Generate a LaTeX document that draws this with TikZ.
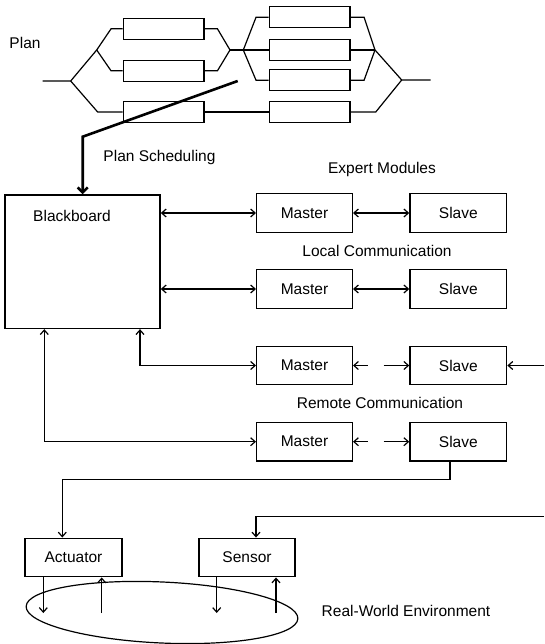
\documentclass[tikz,border=0pt]{standalone}
\usepackage{fontspec}
\setmainfont{Liberation Sans}
\usetikzlibrary{arrows.meta,shapes.geometric}
\begin{document}
\begin{tikzpicture}[x=1pt,y=-1pt,
  font=\fontsize{15.5}{18}\selectfont,
  conn/.style={line width=1.2pt},
  heavy/.style={line width=2.6pt},
  box/.style={draw, line width=1.4pt, inner sep=0pt, minimum height=38.5pt},
  mbox/.style={box, minimum width=95.6pt},
  sbox/.style={box, minimum width=96.7pt},
  pbox/.style={draw, line width=1.4pt, inner sep=0pt, minimum width=80.7pt, minimum height=21pt},
  lbl/.style={inner sep=0pt},
  ar/.style={conn, -{Straight Barb[length=4.5pt,width=8pt]}},
  dar/.style={conn, {Straight Barb[length=4.5pt,width=8pt]}-{Straight Barb[length=4.5pt,width=8pt]}},
  dsh/.style={dash pattern=on 13pt off 16pt on 60pt}
]
\useasboundingbox (0,0) rectangle (544,644);

% ---------------- Plan ----------------
\node[lbl] (plan) at (25,43) {Plan};
\node[pbox] (b1) at (163.7,28.8) {};
\node[pbox] (b2) at (163.7,70.8) {};
\node[pbox] (b6) at (163.7,112) {};
\node[pbox] (b3) at (309.7,17.2) {};
\node[pbox] (b4) at (309.7,50) {};
\node[pbox] (b5) at (309.7,80.3) {};
\node[pbox] (b7) at (309.7,112) {};

\coordinate (pst) at (42.7,81);
\coordinate (f1) at (70.7,81);
\coordinate (s1) at (96.7,50);
\coordinate (m1) at (230,50);
\coordinate (s2) at (243.3,50);
\coordinate (m2) at (375,50);
\coordinate (f2) at (401.7,80);
\coordinate (pen) at (430.7,80);

\draw[conn] (pst) -- (f1) -- (s1) -- ([xshift=-11.6pt]b1.west) -- (b1.west);
\draw[conn] (s1) -- ([xshift=-11.6pt]b2.west) -- (b2.west);
\draw[conn] (f1) -- ([xshift=-25pt]b6.west) -- (b6.west);
\draw[conn] (b1.east) -- ([xshift=12.7pt]b1.east) -- (m1);
\draw[conn] (b2.east) -- ([xshift=12.7pt]b2.east) -- (m1);
\draw[conn] (m1) -- (s2);
\draw[conn] (s2) -- ([xshift=-12.6pt]b3.west) -- (b3.west);
\draw[conn] (s2) -- (b4.west);
\draw[conn] (s2) -- ([xshift=-12.6pt]b5.west) -- (b5.west);
\draw[conn] (b3.east) -- ([xshift=13.3pt]b3.east) -- (m2);
\draw[conn] (b4.east) -- (m2);
\draw[conn] (b5.east) -- ([xshift=13.3pt]b5.east) -- (m2);
\draw[conn] (m2) -- (f2) -- (pen);
\draw[conn] (b6.east) -- (b7.west);
\draw[conn] (b7.east) -- ([xshift=25pt]b7.east) -- (f2);

% ---------------- Plan scheduling ----------------
\node[lbl] (psl) at (159.5,157) {Plan Scheduling};
\node[draw, line width=1.6pt, inner sep=0pt, minimum width=155pt, minimum height=133.3pt] (bb) at (82.5,261.7) {};
\node[lbl] (bbt) at (72,216) {Blackboard};
\coordinate (ps1) at (237.7,81);
\coordinate (ps2) at (82.7,136.7);
\draw[heavy, -{Straight Barb[length=5pt,width=10pt]}] (ps1) -- (ps2) -- (ps2 |- bb.north);

% ---------------- Expert modules ----------------
\node[lbl] (em) at (382,169.3) {Expert Modules};
\node[mbox] (M1) at (304.5,213) {Master};
\node[sbox] (S1) at (458.3,213) {Slave};
\node[lbl] (lc) at (377,250.7) {Local Communication};
\node[mbox] (M2) at (304.5,289) {Master};
\node[sbox] (S2) at (458.3,289) {Slave};
\node[mbox] (M3) at (304.5,365.5) {Master};
\node[sbox] (S3) at (458.3,365.5) {Slave};
\node[lbl] (rc) at (380,403) {Remote Communication};
\node[mbox] (M4) at (304.5,441.7) {Master};
\node[sbox] (S4) at (458.3,441.7) {Slave};

\draw[dar] (M1.west -| bb.east) -- (M1.west);
\draw[dar] (M2.west -| bb.east) -- (M2.west);
\draw[dar] (M1.east) -- (S1.west);
\draw[dar] (M2.east) -- (S2.west);
\draw[dar, dsh] (M3.east) -- (S3.west);
\draw[dar, dsh] (M4.east) -- (S4.west);

\coordinate (c3) at (140,365.5);
\coordinate (c4) at (44.3,441.7);
\draw[dar] (bb.south -| c3) -- (c3) -- (M3.west);
\draw[dar] (bb.south -| c4) -- (c4) -- (M4.west);

\coordinate (r3) at (544,365.5);
\draw[ar] (r3) -- (S3.east);

% ---------------- Actuator / Sensor ----------------
\node[box, minimum width=97pt] (act) at (73.5,557.5) {Actuator};
\node[box, minimum width=96pt] (sen) at (247,557.5) {Sensor};

\coordinate (k1) at (450,479.3);
\coordinate (k2) at (62.3,479.3);
\draw[ar] (S4.south -| k1) -- (k1) -- (k2) -- (k2 |- act.north);

\coordinate (r5) at (544,516.7);
\coordinate (k3) at (256,516.7);
\draw[ar] (r5) -- (k3) -- (k3 |- sen.north);

% ---------------- Environment ----------------
\node[ellipse, draw, line width=1.2pt, inner sep=0pt, minimum width=272pt, minimum height=61pt, rotate=-2.6] (env) at (162,612.5) {};
\node[lbl] (rw) at (406,610.7) {Real-World Environment};

\coordinate (e1) at (43.3,613);
\coordinate (e2) at (101.7,613);
\coordinate (e3) at (216.7,613);
\coordinate (e4) at (276,613);
\draw[ar] (act.south -| e1) -- (e1);
\draw[ar] (e2) -- (e2 |- act.south);
\draw[ar] (sen.south -| e3) -- (e3);
\draw[ar] (e4) -- (e4 |- sen.south);
\end{tikzpicture}
\end{document}
